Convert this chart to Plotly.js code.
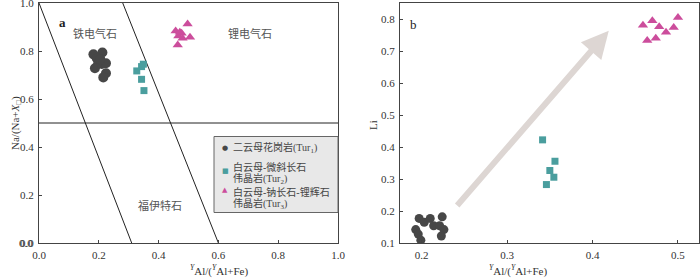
<!DOCTYPE html>
<html><head><meta charset="utf-8">
<script src="https://cdn.plot.ly/plotly-3.0.1.min.js"></script>
<style>body{margin:0;background:#fff}#chart{width:700px;height:280px}</style>
</head><body><div id="chart"></div>
<script>
// Series names (legend, one entry per line)
const seriesNames = [['二云母花岗岩(Tur<sub>1</sub>)'], ['白云母-微斜长石', '伟晶岩(Tur<sub>2</sub>)'], ['白云母-钠长石-锂辉石', '伟晶岩(Tur<sub>3</sub>)']];
// Panel a: YAl/(YAl+Fe) vs Na/(Na+X)
const aTur1X = [0.182, 0.212, 0.193, 0.198, 0.187, 0.210, 0.224, 0.224, 0.215, 0.205];
const aTur1Y = [0.786, 0.794, 0.770, 0.749, 0.728, 0.746, 0.749, 0.707, 0.690, 0.765];
const aTur2X = [0.327, 0.343, 0.349, 0.343, 0.351];
const aTur2Y = [0.717, 0.735, 0.745, 0.682, 0.635];
const aTur3X = [0.457, 0.497, 0.477, 0.466, 0.505, 0.480, 0.464, 0.471];
const aTur3Y = [0.883, 0.912, 0.874, 0.863, 0.857, 0.853, 0.825, 0.878];
// Panel a field boundaries
const boundary1X = [0, 0.31], boundary1Y = [1, 0];
const boundary2X = [0.28, 0.6], boundary2Y = [1, 0];
const boundary3X = [0, 1], boundary3Y = [0.5, 0.5];
const fieldNames = ['铁电气石', '锂电气石', '福伊特石'];
const fieldX = [0.187, 0.706, 0.405];
const fieldY = [0.875, 0.875, 0.158];
// Panel b: YAl/(YAl+Fe) vs Li
const bTur1X = [0.193, 0.197, 0.203, 0.210, 0.214, 0.221, 0.224, 0.226, 0.223, 0.196, 0.199];
const bTur1Y = [0.142, 0.177, 0.165, 0.177, 0.154, 0.154, 0.182, 0.142, 0.122, 0.128, 0.109];
const bTur2X = [0.3415, 0.356, 0.350, 0.3547, 0.346];
const bTur2Y = [0.423, 0.356, 0.327, 0.306, 0.283];
const bTur3X = [0.459, 0.470, 0.478, 0.486, 0.495, 0.500, 0.464, 0.474];
const bTur3Y = [0.782, 0.796, 0.777, 0.760, 0.775, 0.806, 0.734, 0.741];
// Trend arrow (panel b)
const arrowFrom = [0.240, 0.213];
const arrowTo = [0.419, 0.765];
// Ticks
const aTicks = [0, 0.2, 0.4, 0.6, 0.8, 1.0];
const bXTicks = [0.2, 0.3, 0.4, 0.5];
const bYTicks = [0.1, 0.2, 0.3, 0.4, 0.5, 0.6, 0.7, 0.8];

const C1 = '#474747', C2 = '#4a9e9e', C3 = '#cc4d9c';
const W = 700, H = 280;
const px = v => v / W, py = v => 1 - v / H;
const serif = 'Liberation Serif, Noto Sans CJK SC, serif';

const line = (x, y, xa, ya) => ({x, y, xaxis: xa, yaxis: ya, mode: 'lines', line: {color: '#222', width: 1}, showlegend: false, hoverinfo: 'skip'});
const pts = (x, y, xa, ya, sym, col, size) => ({x, y, xaxis: xa, yaxis: ya, mode: 'markers', marker: {symbol: sym, color: col, size: size}, showlegend: false});

const data = [
  line(boundary1X, boundary1Y, 'x', 'y'),
  line(boundary2X, boundary2Y, 'x', 'y'),
  line(boundary3X, boundary3Y, 'x', 'y'),
  pts(aTur1X, aTur1Y, 'x', 'y', 'circle', C1, 10),
  pts(aTur2X, aTur2Y, 'x', 'y', 'square', C2, 7),
  pts(aTur3X, aTur3Y, 'x', 'y', 'triangle-up', C3, 9),
  pts(bTur1X, bTur1Y, 'x2', 'y2', 'circle', C1, 9),
  pts(bTur2X, bTur2Y, 'x2', 'y2', 'square', C2, 7),
  pts(bTur3X, bTur3Y, 'x2', 'y2', 'triangle-up', C3, 9)
];

const axBase = {showgrid: false, zeroline: false, showline: true, mirror: true, linecolor: '#444', linewidth: 1,
  ticks: 'inside', ticklen: 3, tickcolor: '#444', tickfont: {family: serif, size: 11, color: '#333'}, tickformat: '.1f',
  ticklabeloverflow: 'allow', ticklabelstandoff: 2};

const ann = [];
fieldNames.forEach((t, i) => ann.push({xref: 'x', yref: 'y', x: fieldX[i], y: fieldY[i], text: t, showarrow: false,
  font: {family: 'Noto Sans CJK SC', size: 11, color: '#555'}}));
ann.push({xref: 'paper', yref: 'paper', x: px(57), y: py(13), text: '<b>a</b>', showarrow: false, font: {family: serif, size: 13, color: '#222'}});
ann.push({xref: 'paper', yref: 'paper', x: px(413), y: py(15), text: 'b', showarrow: false, font: {family: serif, size: 13, color: '#222'}});
// y=0.0 label of panel a (Plotly drops the corner label)
ann.push({xref: 'paper', yref: 'y', x: px(35), y: aTicks[0], xanchor: 'right', yanchor: 'middle', text: aTicks[0].toFixed(1), showarrow: false,
  font: {family: serif, size: 11, color: '#333'}});
// axis titles
const xTitle = '<sup><i>Y</i></sup>Al/(<sup><i>Y</i></sup>Al+Fe)';
ann.push({xref: 'paper', yref: 'paper', x: px(188), y: py(270), yanchor: 'middle', text: xTitle, showarrow: false, font: {family: serif, size: 11, color: '#333'}});
ann.push({xref: 'paper', yref: 'paper', x: px(550), y: py(270), yanchor: 'middle', text: xTitle, showarrow: false, font: {family: serif, size: 11, color: '#333'}});
ann.push({xref: 'paper', yref: 'paper', x: px(7), y: py(123), textangle: -90, text: 'Na/(Na+<i>X</i><sub>□</sub>)', showarrow: false, font: {family: serif, size: 11, color: '#333'}});
ann.push({xref: 'paper', yref: 'paper', x: px(373), y: py(125), textangle: -90, text: 'Li', showarrow: false, font: {family: serif, size: 11, color: '#333'}});
// arrow
ann.push({xref: 'x2', yref: 'y2', axref: 'x2', ayref: 'y2', x: arrowTo[0], y: arrowTo[1], ax: arrowFrom[0], ay: arrowFrom[1],
  text: '', showarrow: true, arrowhead: 2, arrowsize: 0.9, arrowwidth: 6, arrowcolor: '#ddd6d3'});
// custom legend
const legSym = ['●', '■', '▲'], legCol = [C1, C2, C3], legSymY = [148, 171, 196];
const legLineY = [[148], [167, 179], [192, 204]];
seriesNames.forEach((lines, i) => {
  ann.push({xref: 'paper', yref: 'paper', x: px(220), y: py(legSymY[i]), text: legSym[i], showarrow: false,
    font: {family: 'DejaVu Sans', size: 7, color: legCol[i]}});
  lines.forEach((t, j) => ann.push({xref: 'paper', yref: 'paper', x: px(231), y: py(legLineY[i][j]), xanchor: 'left', yanchor: 'middle',
    text: t, showarrow: false, font: {family: serif, size: 10, color: '#444'}}));
});

const layout = {
  width: W, height: H, margin: {l: 0, r: 0, t: 0, b: 0}, paper_bgcolor: '#fff', plot_bgcolor: '#fff', showlegend: false,
  xaxis: Object.assign({}, axBase, {domain: [px(39), px(338)], range: [0, 1], tickvals: aTicks}),
  yaxis: Object.assign({}, axBase, {domain: [1 - 243 / H, 1 - 3 / H], range: [0, 1], tickvals: aTicks}),
  xaxis2: Object.assign({}, axBase, {domain: [px(400), px(699)], range: [0.1746, 0.5246], tickvals: bXTicks, anchor: 'y2'}),
  yaxis2: Object.assign({}, axBase, {domain: [1 - 243 / H, 1 - 3 / H], range: [0.1, 0.8516], tickvals: bYTicks, anchor: 'x2'}),
  shapes: [{type: 'rect', xref: 'paper', yref: 'paper', x0: px(214), x1: px(338), y0: py(212.5), y1: py(136.5),
    fillcolor: '#e8e8e8', line: {color: '#666', width: 1}, layer: 'above'}],
  annotations: ann
};
Plotly.newPlot('chart', data, layout, {staticPlot: true});
</script></body></html>
